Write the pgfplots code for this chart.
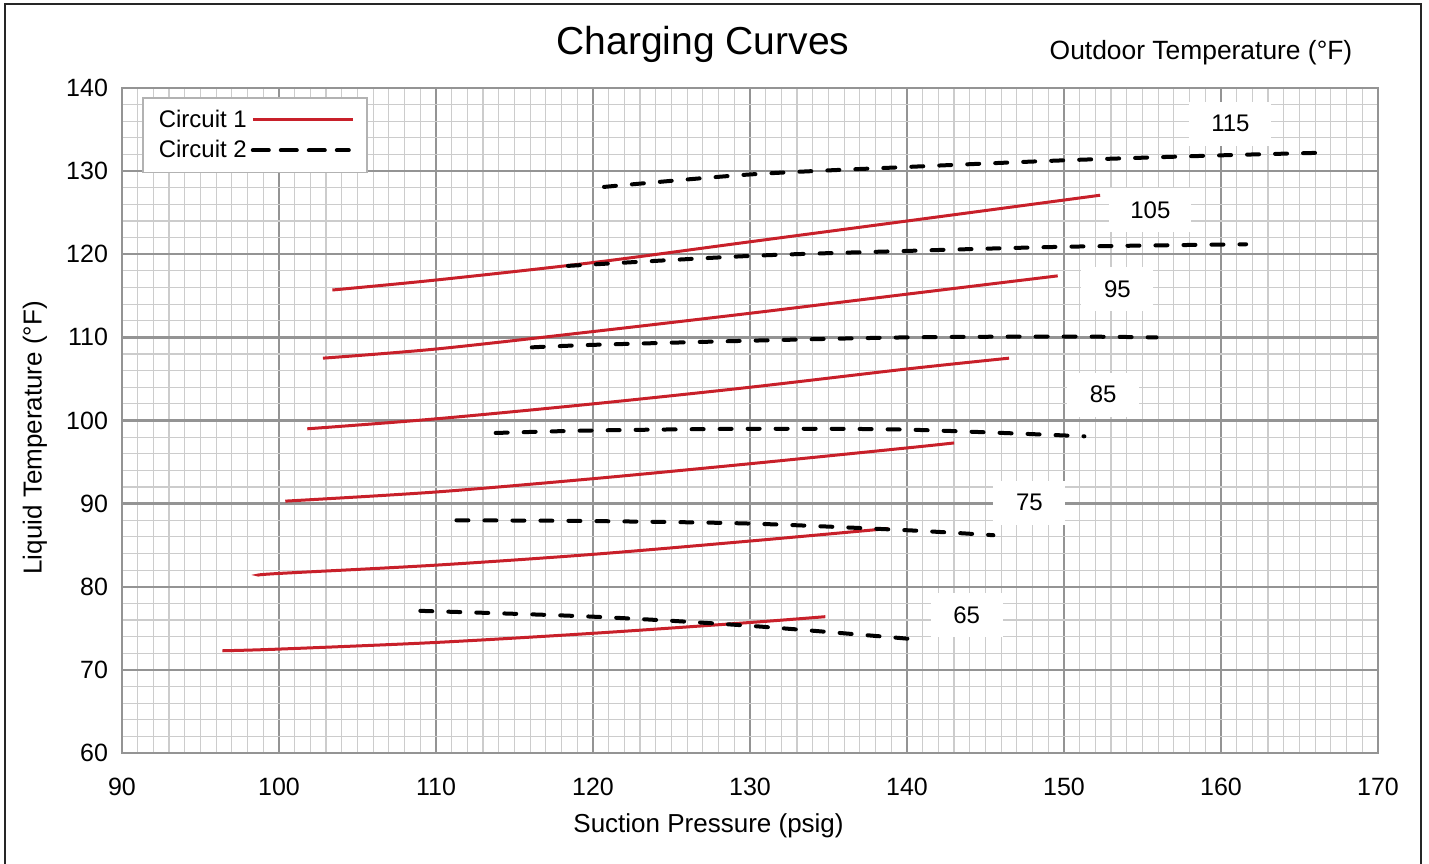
\documentclass[border=0pt]{standalone}
\usepackage{pgfplots}
\pgfplotsset{compat=1.18}
\usepackage{fontspec}
\setmainfont{Liberation Sans}
\definecolor{cred}{HTML}{C8202A}
\begin{document}
\begin{tikzpicture}[x=1pt,y=1pt]
\useasboundingbox (0,0) rectangle (714.5,431.5);
\draw[line width=1.2pt, black!85] (2.5,-5) -- (2.5,429.5) -- (710.5,429.5) -- (710.5,-5);
\node[font=\fontsize{19.5}{23}\selectfont] at (351.5,409.5) {Charging Curves};
\node[font=\fontsize{13.2}{15}\selectfont] at (600.5,405) {Outdoor Temperature (°F)};
\begin{axis}[
  at={(61pt,55pt)}, anchor=south west,
  scale only axis, width=628pt, height=332.5pt,
  xmin=90, xmax=170, ymin=60, ymax=140,
  xtick={90,100,...,170}, ytick={60,70,...,140},
  minor x tick num=9, minor y tick num=4,
  grid=both,
  major grid style={line width=1.2pt, color=black!42},
  minor grid style={line width=0.6pt, color=black!20},
  axis line style={line width=1.4pt, color=black!42},
  tick style={draw=none},
  /pgf/number format/assume math mode=true,
  /pgf/number format/1000 sep={},
  ticklabel style={font=\fontsize{12.5}{14}\selectfont},
  xticklabel style={yshift=-9pt},
  yticklabel style={xshift=-3.5pt},
  xlabel={Suction Pressure (psig)},
  ylabel={Liquid Temperature (°F)},
  label style={font=\fontsize{13}{15}\selectfont},
  xlabel style={at={(axis description cs:0.467,-0.11)}, anchor=center},
  ylabel style={at={(axis description cs:-0.0693,0.474)}, anchor=center, rotate=0},
  legend style={at={(axis description cs:0.0159,0.9865)}, anchor=north west,
    draw=black!30, line width=0.8pt, fill=white,
    font=\fontsize{12}{14}\selectfont, inner xsep=6pt, inner ysep=4pt,
    row sep=1pt},
  legend cell align=left,
  legend plot pos=right,
  legend image code/.code={\draw[#1] (2pt,0pt) -- (41pt,0pt); \path (0pt,0pt) -- (50pt,0pt);},
]
% label boxes
\node[fill=white, minimum width=41pt, minimum height=22pt, font=\fontsize{12}{14}\selectfont] at (axis cs:160.6,135.7) {115};
\node[fill=white, minimum width=41pt, minimum height=22pt, font=\fontsize{12}{14}\selectfont] at (axis cs:155.5,125.3) {105};
\node[fill=white, minimum width=36pt, minimum height=22pt, font=\fontsize{12}{14}\selectfont] at (axis cs:153.4,115.8) {95};
\node[fill=white, minimum width=36pt, minimum height=22pt, font=\fontsize{12}{14}\selectfont] at (axis cs:152.5,103.1) {85};
\node[fill=white, minimum width=36pt, minimum height=22pt, font=\fontsize{12}{14}\selectfont] at (axis cs:147.8,90.1) {75};
\node[fill=white, minimum width=36pt, minimum height=22pt, font=\fontsize{12}{14}\selectfont] at (axis cs:143.8,76.6) {65};
% Circuit 1
\addplot[cred, line width=1.5pt, smooth] coordinates {(96.4,72.3) (100,72.5) (110,73.3) (120,74.4) (130,75.7) (134.8,76.4)};
\addlegendentry{Circuit 1}
\addplot[black, line width=2pt, dash pattern=on 6pt off 8pt, line cap=round, smooth] coordinates {(109,77.1) (120,76.4) (130,75.3) (141,73.6)};
\addlegendentry{Circuit 2}
\addplot[cred, line width=1.5pt, smooth] coordinates {(98.7,81.4) (100,81.6) (110,82.6) (120,83.9) (130,85.5) (138.8,87.0)};
\addplot[cred, line width=1.5pt, smooth] coordinates {(100.4,90.3) (110,91.4) (120,93.0) (130,94.8) (140,96.7) (143,97.3)};
\addplot[cred, line width=1.5pt, smooth] coordinates {(101.8,99.0) (110,100.2) (120,102.0) (130,104.0) (140,106.2) (146.5,107.5)};
\addplot[cred, line width=1.5pt, smooth] coordinates {(102.8,107.5) (110,108.6) (120,110.7) (130,112.9) (140,115.2) (149.6,117.4)};
\addplot[cred, line width=1.5pt, smooth] coordinates {(103.4,115.7) (110,116.9) (120,119.0) (130,121.5) (140,124.0) (152.3,127.1)};
% Circuit 2
\addplot[black, line width=2pt, dash pattern=on 6pt off 8pt, line cap=round, smooth] coordinates {(111.3,88.0) (120,87.9) (130,87.6) (140,86.8) (145.5,86.2)};
\addplot[black, line width=2pt, dash pattern=on 6pt off 8pt, line cap=round, smooth] coordinates {(113.8,98.5) (120,98.8) (130,99.0) (140,98.9) (151.3,98.1)};
\addplot[black, line width=2pt, dash pattern=on 6pt off 8pt, line cap=round, smooth] coordinates {(116.1,108.8) (120,109.1) (130,109.6) (140,110.0) (150,110.1) (155.9,110.0)};
\addplot[black, line width=2pt, dash pattern=on 6pt off 8pt, line cap=round, smooth] coordinates {(118.4,118.6) (130,119.8) (140,120.4) (150,120.9) (161.6,121.2)};
\addplot[black, line width=2pt, dash pattern=on 6pt off 8pt, line cap=round, smooth] coordinates {(120.7,128.1) (130,129.6) (140,130.5) (150,131.3) (160,131.9) (166.2,132.2)};
\end{axis}
\end{tikzpicture}
\end{document}
